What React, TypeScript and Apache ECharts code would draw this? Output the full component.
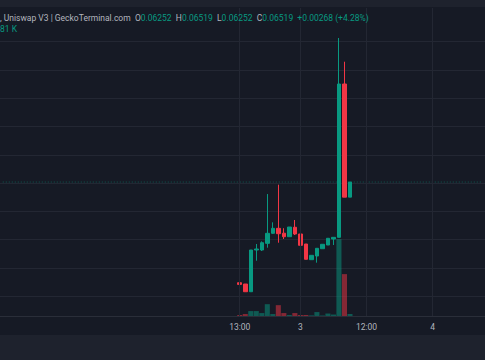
import React, { useEffect, useRef } from "react";
import * as echarts from "echarts";

// hourly candles, first one at 13:00 on day 2 (category index 43)
const candleStart = 43;
const opens = [0.0474, 0.04717, 0.04581, 0.05318, 0.05318, 0.05436, 0.05613, 0.05701, 0.05615, 0.05553, 0.0572, 0.05601, 0.05424, 0.05147, 0.05212, 0.05341, 0.05406, 0.05512, 0.05542, 0.08251, 0.06252];
const closes = [0.0471, 0.04581, 0.05318, 0.05336, 0.05447, 0.05613, 0.05701, 0.05606, 0.05553, 0.05724, 0.05601, 0.05401, 0.05154, 0.05224, 0.05348, 0.05419, 0.05525, 0.05542, 0.08251, 0.06252, 0.06519];
const highs = [0.0476, 0.04717, 0.05318, 0.05424, 0.0547, 0.06307, 0.05807, 0.06472, 0.05703, 0.05724, 0.05848, 0.05601, 0.05424, 0.05224, 0.05348, 0.05419, 0.05525, 0.05542, 0.09064, 0.08645, 0.06519];
const lows = [0.047, 0.04581, 0.04581, 0.05129, 0.053, 0.05359, 0.05606, 0.05447, 0.05512, 0.05553, 0.05583, 0.05376, 0.05154, 0.05147, 0.05094, 0.05341, 0.05406, 0.05406, 0.05542, 0.06252, 0.06252];
const volumes = [40, 80, 200, 200, 120, 480, 80, 440, 120, 40, 120, 40, 40, 25, 160, 20, 100, 60, 3120, 1700, 81];

const totalSlots = 88;
const tickIdx = [43, 54, 66, 78];
const priceMin = 0.04152;
const priceMax = 0.09594;
const gridMin = 0.045;
const gridMax = 0.09;
const gridStep = 0.005;
const lastPrice = closes[closes.length - 1];

const categories = Array.from({ length: totalSlots }, (_, i) => {
  const h = (i + 18) % 24;
  const d = Math.floor((i + 18) / 24);
  return h === 0 ? String(d) : `${String(h).padStart(2, "0")}:00`;
});

const GREEN = "#089981";
const RED = "#f23645";
const GREEN_V = "rgba(8,153,129,0.5)";
const RED_V = "rgba(242,54,69,0.5)";
const GRID = "#232733";
const BG = "#161a25";
const STRIP = "#1e222d";

const H = 360;
const TOP = 8;
const BOTTOM = 44;

export default function App() {
  const ref = useRef<HTMLDivElement>(null);
  useEffect(() => {
    if (!ref.current) return;
    const chart = echarts.init(ref.current, null, { renderer: "svg" });
    const candleData: any[] = categories.map(() => "-");
    const volData: any[] = categories.map(() => "-");
    opens.forEach((o, k) => {
      const up = closes[k] >= o;
      candleData[candleStart + k] = [o, closes[k], lows[k], highs[k]];
      volData[candleStart + k] = { value: volumes[k], itemStyle: { color: up ? GREEN_V : RED_V } };
    });
    // pixel position of a price inside main grid, used only to place the gridline grid
    const plotH = H - TOP - BOTTOM;
    const py = (p: number) => TOP + ((priceMax - p) / (priceMax - priceMin)) * plotH;
    const gTop = py(gridMax);
    const gBottom = H - py(gridMin);
    const font = "Roboto, 'Noto Sans', sans-serif";
    chart.setOption({
      animation: false,
      backgroundColor: BG,
      grid: [
        { left: 0, right: 0, top: TOP, bottom: BOTTOM },
        { left: 0, right: 0, top: gTop, bottom: gBottom },
      ],
      xAxis: [
        {
          type: "category",
          data: categories,
          boundaryGap: true,
          gridIndex: 0,
          axisLine: { show: true, lineStyle: { color: "#2a2e39" } },
          axisTick: { show: false },
          splitLine: { show: false },
          axisLabel: {
            interval: (i: number) => tickIdx.includes(i),
            color: "#b2b5be",
            fontSize: 8.5,
            fontFamily: font,
            margin: 6,
          },
        },
        { type: "value", gridIndex: 1, show: false, min: 0, max: 1, splitLine: { show: false } },
      ],
      yAxis: [
        { type: "value", gridIndex: 0, min: priceMin, max: priceMax, show: false, splitLine: { show: false } },
        { type: "value", gridIndex: 0, min: 0, max: 12500, show: false, splitLine: { show: false } },
        {
          type: "value",
          gridIndex: 1,
          min: gridMin,
          max: gridMax,
          interval: gridStep,
          axisLine: { show: false },
          axisTick: { show: false },
          axisLabel: { show: false },
          splitLine: { show: true, lineStyle: { color: GRID, width: 1 } },
          z: 0,
        },
      ],
      graphic: [
        { type: "rect", shape: { x: 0, y: 0, width: 485, height: 7 }, style: { fill: STRIP }, z: 100 },
        { type: "rect", shape: { x: 0, y: 335, width: 485, height: 25 }, style: { fill: STRIP }, z: 100 },
        {
          type: "text",
          x: 0,
          y: 18,
          z: 100,
          style: {
            text: "{g|, Uniswap V3 | GeckoTerminal.com  O}{v|0.06252}{g|  H}{v|0.06519}{g|  L}{v|0.06252}{g|  C}{v|0.06519}{v|  +0.00268 (+4.28%)}",
            verticalAlign: "middle",
            rich: {
              g: { fill: "#b2b5be", fontSize: 8.5, fontFamily: font },
              v: { fill: GREEN, fontSize: 8.5, fontFamily: font },
            },
          },
        },
        {
          type: "text",
          x: 0,
          y: 29,
          z: 100,
          style: { text: "81 K", fill: GREEN, fontSize: 8.5, fontFamily: font, verticalAlign: "middle" },
        },
      ],
      series: [
        {
          name: "vgrid",
          type: "line",
          data: categories.map(() => "-"),
          z: 0,
          silent: true,
          markLine: {
            silent: true,
            symbol: ["none", "none"],
            label: { show: false },
            lineStyle: { color: GRID, width: 1, type: "solid" },
            data: tickIdx.map((i) => ({ xAxis: i })),
          },
        },
        {
          name: "last",
          type: "line",
          data: categories.map(() => lastPrice),
          showSymbol: false,
          symbol: "none",
          silent: true,
          z: 1,
          lineStyle: { color: "rgba(8,153,129,0.5)", width: 1, type: [1, 2] },
        },
        {
          name: "volume",
          type: "bar",
          yAxisIndex: 1,
          data: volData,
          barCategoryGap: "8%",
          z: 1,
        },
        {
          name: "price",
          type: "candlestick",
          data: candleData,
          barWidth: 4,
          z: 3,
          itemStyle: {
            color: GREEN,
            color0: RED,
            borderColor: GREEN,
            borderColor0: RED,
            borderWidth: 1,
          },
        },
      ],
    });
    return () => chart.dispose();
  }, []);
  return <div ref={ref} style={{ width: 485, height: 360, position: "absolute", left: 0, top: 0 }} />;
}
